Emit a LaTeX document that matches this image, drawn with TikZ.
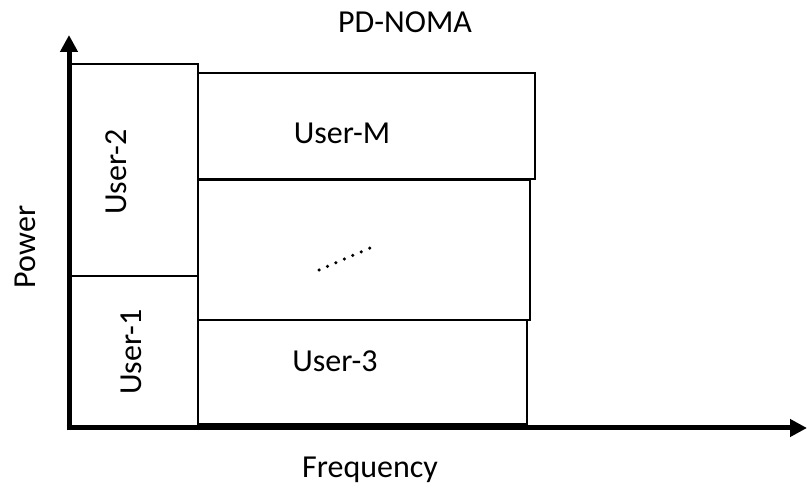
\documentclass[tikz,border=0pt]{standalone}
\usepackage{fontspec}
\setmainfont{Carlito}
\usetikzlibrary{arrows.meta}

\begin{document}
\begin{tikzpicture}[x=1pt,y=1pt]
\tikzstyle{box} = [rectangle, draw, line width=2.4pt, anchor=south west, inner sep=0pt]
\tikzstyle{axis} = [draw, line width=5pt, -{Triangle[length=17pt,width=17pt]}]
\tikzstyle{lbl} = [font=\fontsize{32}{37}\selectfont, inner sep=0pt]
\useasboundingbox (0,0) rectangle (807,488);

% axes
\coordinate (origin) at (69,60);
\coordinate (ytip) at (69,453);
\coordinate (xtip) at (807,60);
\path[axis] ([xshift=-2.5pt]origin) -- (xtip);
\path[axis] ([yshift=-2.5pt]origin) -- (ytip);

% first column
\node [box, minimum width=128pt, minimum height=151pt] (user1) at (69,60) {};
\node [box, minimum width=128pt, minimum height=212pt] (user2) at (69,211) {};
% right column
\node [box, minimum width=329pt, minimum height=104pt] (user3) at (197,63) {};
\node [box, minimum width=332pt, minimum height=140pt] (mid) at (197,167) {};
\node [box, minimum width=337pt, minimum height=106pt] (userM) at (197,308) {};

% labels
\node [lbl, rotate=90] (l1) at (131,136) {User-1};
\node [lbl, rotate=90] (l2) at (116,316) {User-2};
\node [lbl] (l3) at (335,127) {User-3};
\node [lbl] (lM) at (342,355) {User-M};
\coordinate (dotsA) at (319,218);
\coordinate (dotsB) at (370,240);
\draw [line width=3.5pt, line cap=round, dash pattern=on 0pt off 9.2pt] (dotsA) -- (dotsB);

\node [lbl] (title) at (405,466) {PD-NOMA};
\node [lbl, rotate=90] (power) at (25,241) {Power};
\node [lbl] (freq) at (370,18) {Frequency};

\end{tikzpicture}
\end{document}
